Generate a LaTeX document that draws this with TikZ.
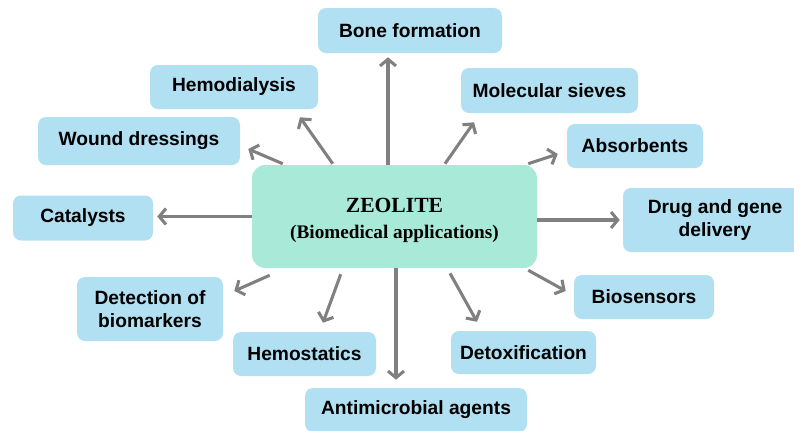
\documentclass[tikz,border=0pt]{standalone}
\usepackage{fontspec}
\setmainfont{Liberation Serif}
\setsansfont{Liberation Sans}
\usepackage{xcolor}
\usetikzlibrary{positioning,arrows.meta,calc}
\definecolor{appblue}{RGB}{178,224,243}
\definecolor{zeomint}{RGB}{168,234,215}
\definecolor{arrowgray}{RGB}{128,128,128}

\begin{document}
\begin{tikzpicture}[x=0.75pt, y=-0.75pt,
  appbox/.style={fill=appblue, rounded corners=6pt, align=center, inner sep=0pt,
    font=\sffamily\bfseries\fontsize{14.4}{17.2}\selectfont},
  zeobox/.style={fill=zeomint, rounded corners=10pt, inner sep=0pt,
    minimum width=213.75pt, minimum height=77.25pt},
  zeotitle/.style={align=center, inner sep=0pt, font=\bfseries\fontsize{14.4}{19}\selectfont},
  apparrow/.style={draw=arrowgray, line width=2.3pt, -{Straight Barb[length=5pt,width=12pt]}}]
\useasboundingbox (0,0) rectangle (794,430);
% central box
\node[zeobox] (zeo) at (394.5,216.5) {};
\node[zeotitle] (zeotext) at ($(zeo.center)+(0,4)$) {\fontsize{16.2}{19}\selectfont ZEOLITE\\
  \fontsize{14.4}{19}\selectfont (Biomedical applications)};
% application boxes, clockwise from the top
\node[appbox, minimum width=138pt, minimum height=33.75pt] (bone) at (410,30.5) {Bone formation};
\node[appbox, minimum width=132.75pt, minimum height=33.75pt] (sieves) at (549.5,90.5) {Molecular sieves};
\node[appbox, minimum width=102pt, minimum height=33pt] (absorb) at (635,146) {Absorbents};
\node[appbox, minimum width=138pt, minimum height=48pt] (drug) at (715,220) {Drug and gene\\delivery};
\node[appbox, minimum width=105pt, minimum height=33pt] (biosens) at (644,297) {Biosensors};
\node[appbox, minimum width=108.75pt, minimum height=32.25pt] (detox) at (523.5,352.5) {Detoxification};
\node[appbox, minimum width=166.5pt, minimum height=33pt] (antimic) at (416,410) {Antimicrobial agents};
\node[appbox, minimum width=107.25pt, minimum height=33pt] (hemost) at (304.5,354) {Hemostatics};
\node[appbox, minimum width=109.5pt, minimum height=48pt] (detect) at (150,309) {Detection of\\biomarkers};
\node[appbox, minimum width=105pt, minimum height=33.75pt] (catal) at (83,218) {Catalysts};
\node[appbox, minimum width=151.5pt, minimum height=36pt] (wound) at (139,141) {Wound dressings};
\node[appbox, minimum width=126pt, minimum height=33pt] (hemo) at (234,87) {Hemodialysis};
% arrows out of the central box
\draw[apparrow] ($(zeo.north)+(-6.5,0)$) -- ($(bone.south)+(-22,4)$);
\draw[apparrow] ($(zeo.north)+(50.5,-1)$) -- ($(sieves.south)+(-75.5,9)$);
\draw[apparrow] ($(zeo.north east)+(-9,-1)$) -- ($(absorb.west)+(-9,8)$);
\draw[apparrow] ($(zeo.east)+(0,3.5)$) -- ($(drug.west)+(-3,0)$);
\draw[apparrow] ($(zeo.south east)+(-9,2)$) -- ($(biosens.west)+(-8,-6)$);
\draw[apparrow] ($(zeo.south)+(55.5,5)$) -- ($(detox.north)+(-46.5,-9)$);
\draw[apparrow] ($(zeo.south)+(1.5,0)$) -- ($(antimic.north)+(-20,-8)$);
\draw[apparrow] ($(zeo.south west)+(89,6)$) -- ($(hemost.north)+(18.5,-9)$);
\draw[apparrow] ($(zeo.south west)+(18,7)$) -- ($(detect.east)+(11,-18)$);
\draw[apparrow] (zeo.west) -- ($(catal.east)+(4,-1.5)$);
\draw[apparrow] ($(zeo.north west)+(31,-1)$) -- ($(wound.east)+(8,8)$);
\draw[apparrow] ($(zeo.north west)+(81,-1)$) -- ($(hemo.south)+(66,8)$);
\end{tikzpicture}
\end{document}
